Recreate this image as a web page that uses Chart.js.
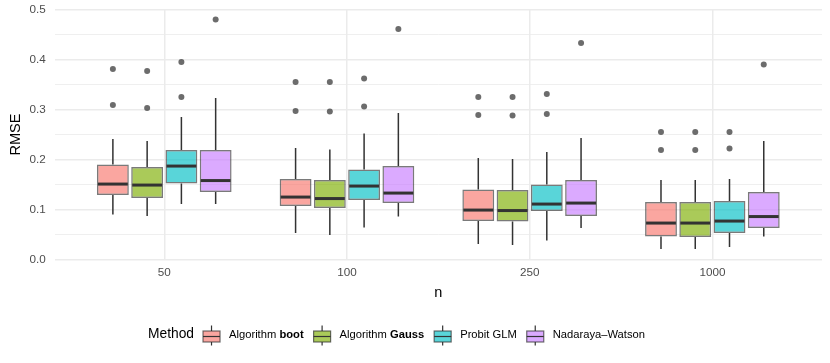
<!DOCTYPE html>
<html>
<head>
<meta charset="utf-8">
<script src="https://cdn.jsdelivr.net/npm/chart.js@4.4.0/dist/chart.umd.min.js"></script>
<style>
  body { margin: 0; background: #fff; }
  #wrap { width: 830px; height: 363px; position: relative; }
</style>
</head>
<body>
<div id="wrap"><canvas id="rmseChart"></canvas></div>
<script>
// Categories (sample size n) and methods
const categories = ['50', '100', '250', '1000'];
const methods = ['Algorithm boot', 'Algorithm Gauss', 'Probit GLM', 'Nadaraya-Watson'];
// legend labels, [text, bold]
const legendParts = [
    [['Algorithm ', false], ['boot', true]],
    [['Algorithm ', false], ['Gauss', true]],
    [['Probit GLM', false]],
    [['Nadaraya\u2013Watson', false]]
];
const fillColors = ['rgba(248,118,109,0.65)', 'rgba(124,174,0,0.65)', 'rgba(0,191,196,0.65)', 'rgba(199,124,255,0.65)'];

// Box statistics, one row per method, one column per category
const whiskerLow = [
    [0.090, 0.053, 0.031, 0.021],
    [0.087, 0.049, 0.029, 0.021],
    [0.111, 0.064, 0.038, 0.025],
    [0.111, 0.086, 0.063, 0.046]
];
const q1 = [
    [0.129, 0.107, 0.077, 0.046],
    [0.123, 0.103, 0.076, 0.045],
    [0.152, 0.119, 0.097, 0.053],
    [0.135, 0.113, 0.087, 0.063]
];
const median = [
    [0.151, 0.125, 0.099, 0.073],
    [0.149, 0.122, 0.098, 0.073],
    [0.187, 0.147, 0.111, 0.077],
    [0.158, 0.133, 0.113, 0.086]
];
const q3 = [
    [0.190, 0.161, 0.140, 0.115],
    [0.185, 0.159, 0.139, 0.115],
    [0.219, 0.180, 0.150, 0.117],
    [0.219, 0.187, 0.159, 0.135]
];
const whiskerHigh = [
    [0.241, 0.223, 0.203, 0.159],
    [0.237, 0.220, 0.201, 0.159],
    [0.285, 0.252, 0.215, 0.161],
    [0.323, 0.293, 0.243, 0.237]
];
const outliers = [
    [[0.381, 0.309], [0.355, 0.297], [0.325, 0.289], [0.255, 0.219]],
    [[0.377, 0.303], [0.355, 0.296], [0.325, 0.288], [0.255, 0.219]],
    [[0.395, 0.325], [0.362, 0.306], [0.331, 0.291], [0.255, 0.222]],
    [[0.480], [0.461], [0.433], [0.390]]
];

const FONT = "'Liberation Sans', Arial, sans-serif";
const DARK = '#333333';

// whiskers, medians and outlier points drawn from the bar elements
const boxPlugin = {
    id: 'boxParts',
    beforeDatasetsDraw(chart) {
        const ctx = chart.ctx, y = chart.scales.y;
        ctx.save();
        ctx.strokeStyle = DARK;
        ctx.lineWidth = 1.5;
        chart.data.datasets.forEach((ds, m) => {
            chart.getDatasetMeta(m).data.forEach((bar, i) => {
                ctx.beginPath();
                ctx.moveTo(bar.x, y.getPixelForValue(whiskerHigh[m][i]));
                ctx.lineTo(bar.x, y.getPixelForValue(q3[m][i]));
                ctx.moveTo(bar.x, y.getPixelForValue(q1[m][i]));
                ctx.lineTo(bar.x, y.getPixelForValue(whiskerLow[m][i]));
                ctx.stroke();
            });
        });
        ctx.restore();
    },
    afterDatasetsDraw(chart) {
        const ctx = chart.ctx, y = chart.scales.y;
        ctx.save();
        chart.data.datasets.forEach((ds, m) => {
            chart.getDatasetMeta(m).data.forEach((bar, i) => {
                const half = bar.width / 2;
                const my = y.getPixelForValue(median[m][i]);
                ctx.strokeStyle = DARK;
                ctx.lineWidth = 3;
                ctx.beginPath();
                ctx.moveTo(bar.x - half + 1, my);
                ctx.lineTo(bar.x + half - 1, my);
                ctx.stroke();
                ctx.fillStyle = 'rgba(51,51,51,0.72)';
                outliers[m][i].forEach(v => {
                    ctx.beginPath();
                    ctx.arc(bar.x, y.getPixelForValue(v), 3, 0, Math.PI * 2);
                    ctx.fill();
                });
            });
        });
        ctx.restore();
    },
    afterDraw(chart) {
        // legend: "Method" title then boxplot keys
        const ctx = chart.ctx;
        const cy = 334.5;
        let x = 148;
        ctx.save();
        ctx.textBaseline = 'middle';
        ctx.fillStyle = '#000';
        ctx.font = '13.8px ' + FONT;
        ctx.fillText('Method', x, cy);
        x += ctx.measureText('Method').width + 9;
        methods.forEach((name, m) => {
            const kx = x, kw = 17;
            ctx.strokeStyle = DARK;
            ctx.lineWidth = 1.2;
            ctx.beginPath();
            ctx.moveTo(kx + kw / 2, cy - 9);
            ctx.lineTo(kx + kw / 2, cy + 11);
            ctx.stroke();
            ctx.fillStyle = '#fff';
            ctx.fillRect(kx, cy - 3.5, kw, 11);
            ctx.fillStyle = fillColors[m];
            ctx.fillRect(kx, cy - 3.5, kw, 11);
            ctx.strokeStyle = 'rgba(51,51,51,0.7)';
            ctx.strokeRect(kx, cy - 3.5, kw, 11);
            ctx.strokeStyle = DARK;
            ctx.beginPath();
            ctx.moveTo(kx, cy + 2);
            ctx.lineTo(kx + kw, cy + 2);
            ctx.stroke();
            x += kw + 9;
            ctx.fillStyle = '#000';
            legendParts[m].forEach(([t, bold]) => {
                ctx.font = (bold ? 'bold ' : '') + '11.2px ' + FONT;
                ctx.fillText(t, x, cy);
                x += ctx.measureText(t).width;
            });
            x += 10;
        });
        ctx.restore();
    }
};

const datasets = methods.map((name, m) => ({
    label: name,
    data: categories.map((c, i) => ({ x: i, y: [q1[m][i], q3[m][i]] })),
    backgroundColor: fillColors[m],
    borderColor: 'rgba(51,51,51,0.65)',
    borderWidth: 1.5,
    borderSkipped: false,
    categoryPercentage: 0.75,
    barPercentage: 0.93
}));

new Chart(document.getElementById('rmseChart'), {
    type: 'bar',
    data: { datasets: datasets },
    plugins: [boxPlugin],
    options: {
        responsive: true,
        maintainAspectRatio: false,
        animation: false,
        layout: { padding: { top: 4, right: 8, bottom: 61, left: 7 } },
        plugins: {
            legend: { display: false },
            tooltip: { enabled: false }
        },
        scales: {
            x: {
                type: 'linear',
                min: -0.6,
                max: 3.6,
                offset: false,
                afterBuildTicks: axis => { axis.ticks = categories.map((c, i) => ({ value: i })); },
                grid: { color: '#EBEBEB', lineWidth: 1.5, drawTicks: false, offset: false },
                border: { display: false },
                ticks: {
                    padding: 6,
                    color: '#4D4D4D',
                    font: { family: FONT, size: 11.7 },
                    callback: v => categories[v]
                },
                title: { display: true, text: 'n', color: '#000', font: { family: FONT, size: 14.5 }, padding: { top: -1, bottom: 0 } }
            },
            y: {
                min: 0,
                max: 0.5,
                grid: {
                    color: '#EBEBEB',
                    drawTicks: false,
                    lineWidth: c => (Math.round(c.tick.value * 100) % 10 === 0 ? 1.5 : 0.8)
                },
                border: { display: false },
                ticks: {
                    stepSize: 0.05,
                    padding: 9,
                    color: '#4D4D4D',
                    font: { family: FONT, size: 11.7, lineHeight: 0.1 },
                    callback: v => (Math.round(v * 100) % 10 === 0 ? v.toFixed(1) : '')
                },
                title: { display: true, text: 'RMSE', color: '#000', font: { family: FONT, size: 14.5 }, padding: { top: 0, bottom: -4 } }
            }
        }
    }
});
</script>
</body>
</html>
